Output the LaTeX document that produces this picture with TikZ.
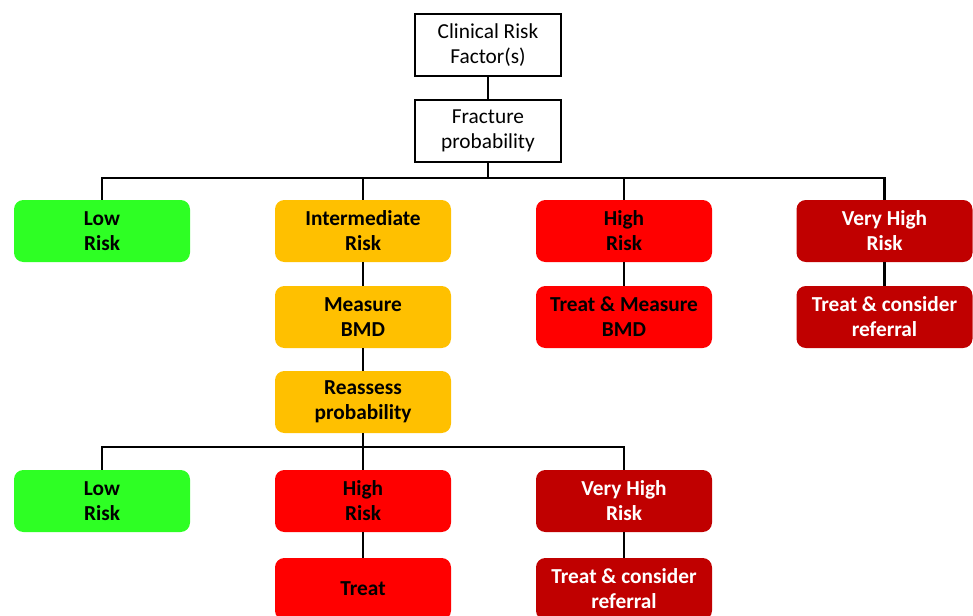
\documentclass[tikz,border=0pt]{standalone}
\usepackage{fontspec}
\setmainfont{Carlito}
\definecolor{lowgreen}{HTML}{2EFF24}
\definecolor{midamber}{HTML}{FFC000}
\definecolor{highred}{HTML}{FF0000}
\definecolor{vhighred}{HTML}{C00000}
\begin{document}
\begin{tikzpicture}[x=0.75pt, y=-0.75pt,
            plain/.style={rectangle, draw=black, line width=2pt, fill=white, minimum width=109.5pt, minimum height=46.5pt, align=center, font=\fontsize{16}{18.75}\selectfont},
            risk/.style={rectangle, rounded corners=7pt, minimum width=132pt, minimum height=46.5pt, align=center, font=\fontsize{16}{18.75}\selectfont\bfseries},
            low/.style={risk, fill=lowgreen},
            mid/.style={risk, fill=midamber},
            high/.style={risk, fill=highred},
            vhigh/.style={risk, fill=vhighred, text=white},
            link/.style={draw=black, line width=2pt},
        ]
            \clip (0,0) rectangle (973,615);
            \node[plain](clinnode) at (488,45) {Clinical Risk\\Factor(s)};
            \node[plain](fracnode) at (488,131) {Fracture\\probability};
            \node[low](lownode) at (102,231) {Low\\Risk};
            \node[mid](midnode) at (363,231) {Intermediate\\Risk};
            \node[high](highnode) at (624,231) {High\\Risk};
            \node[vhigh](vhighnode) at (884.5,231) {Very High\\Risk};
            \node[mid](bmdnode) at (363,317) {Measure\\BMD};
            \node[mid](reassnode) at (363,402) {Reassess\\probability};
            \node[high](treatbmdnode) at (624,317) {Treat \& Measure\\BMD};
            \node[vhigh](referralnode) at (884.5,317) {Treat \& consider\\referral};
            \node[low](lowtwonode) at (102,501) {Low\\Risk};
            \node[high](hightwonode) at (363,501) {High\\Risk};
            \node[vhigh](vhightwonode) at (624,501) {Very High\\Risk};
            \node[high](treatnode) at (363,589) {Treat};
            \node[vhigh](referraltwonode) at (624,589) {Treat \& consider\\referral};
            \coordinate (busone) at (488,178);
            \coordinate (bustwo) at (363,447);
            \draw[link] (clinnode) -- (fracnode);
            \draw[link] (fracnode) -- (busone);
            \draw[link] (lownode.north) |- (busone) -| (vhighnode.north);
            \draw[link] (midnode.north) -- (midnode.north |- busone);
            \draw[link] (highnode.north) -- (highnode.north |- busone);
            \draw[link] (midnode) -- (bmdnode);
            \draw[link] (bmdnode) -- (reassnode);
            \draw[link] (highnode) -- (treatbmdnode);
            \draw[link] (vhighnode) -- (referralnode);
            \draw[link] (reassnode) -- (bustwo);
            \draw[link] (lowtwonode.north) |- (bustwo) -| (vhightwonode.north);
            \draw[link] (hightwonode.north) -- (bustwo);
            \draw[link] (hightwonode) -- (treatnode);
            \draw[link] (vhightwonode) -- (referraltwonode);
        \end{tikzpicture}
\end{document}
